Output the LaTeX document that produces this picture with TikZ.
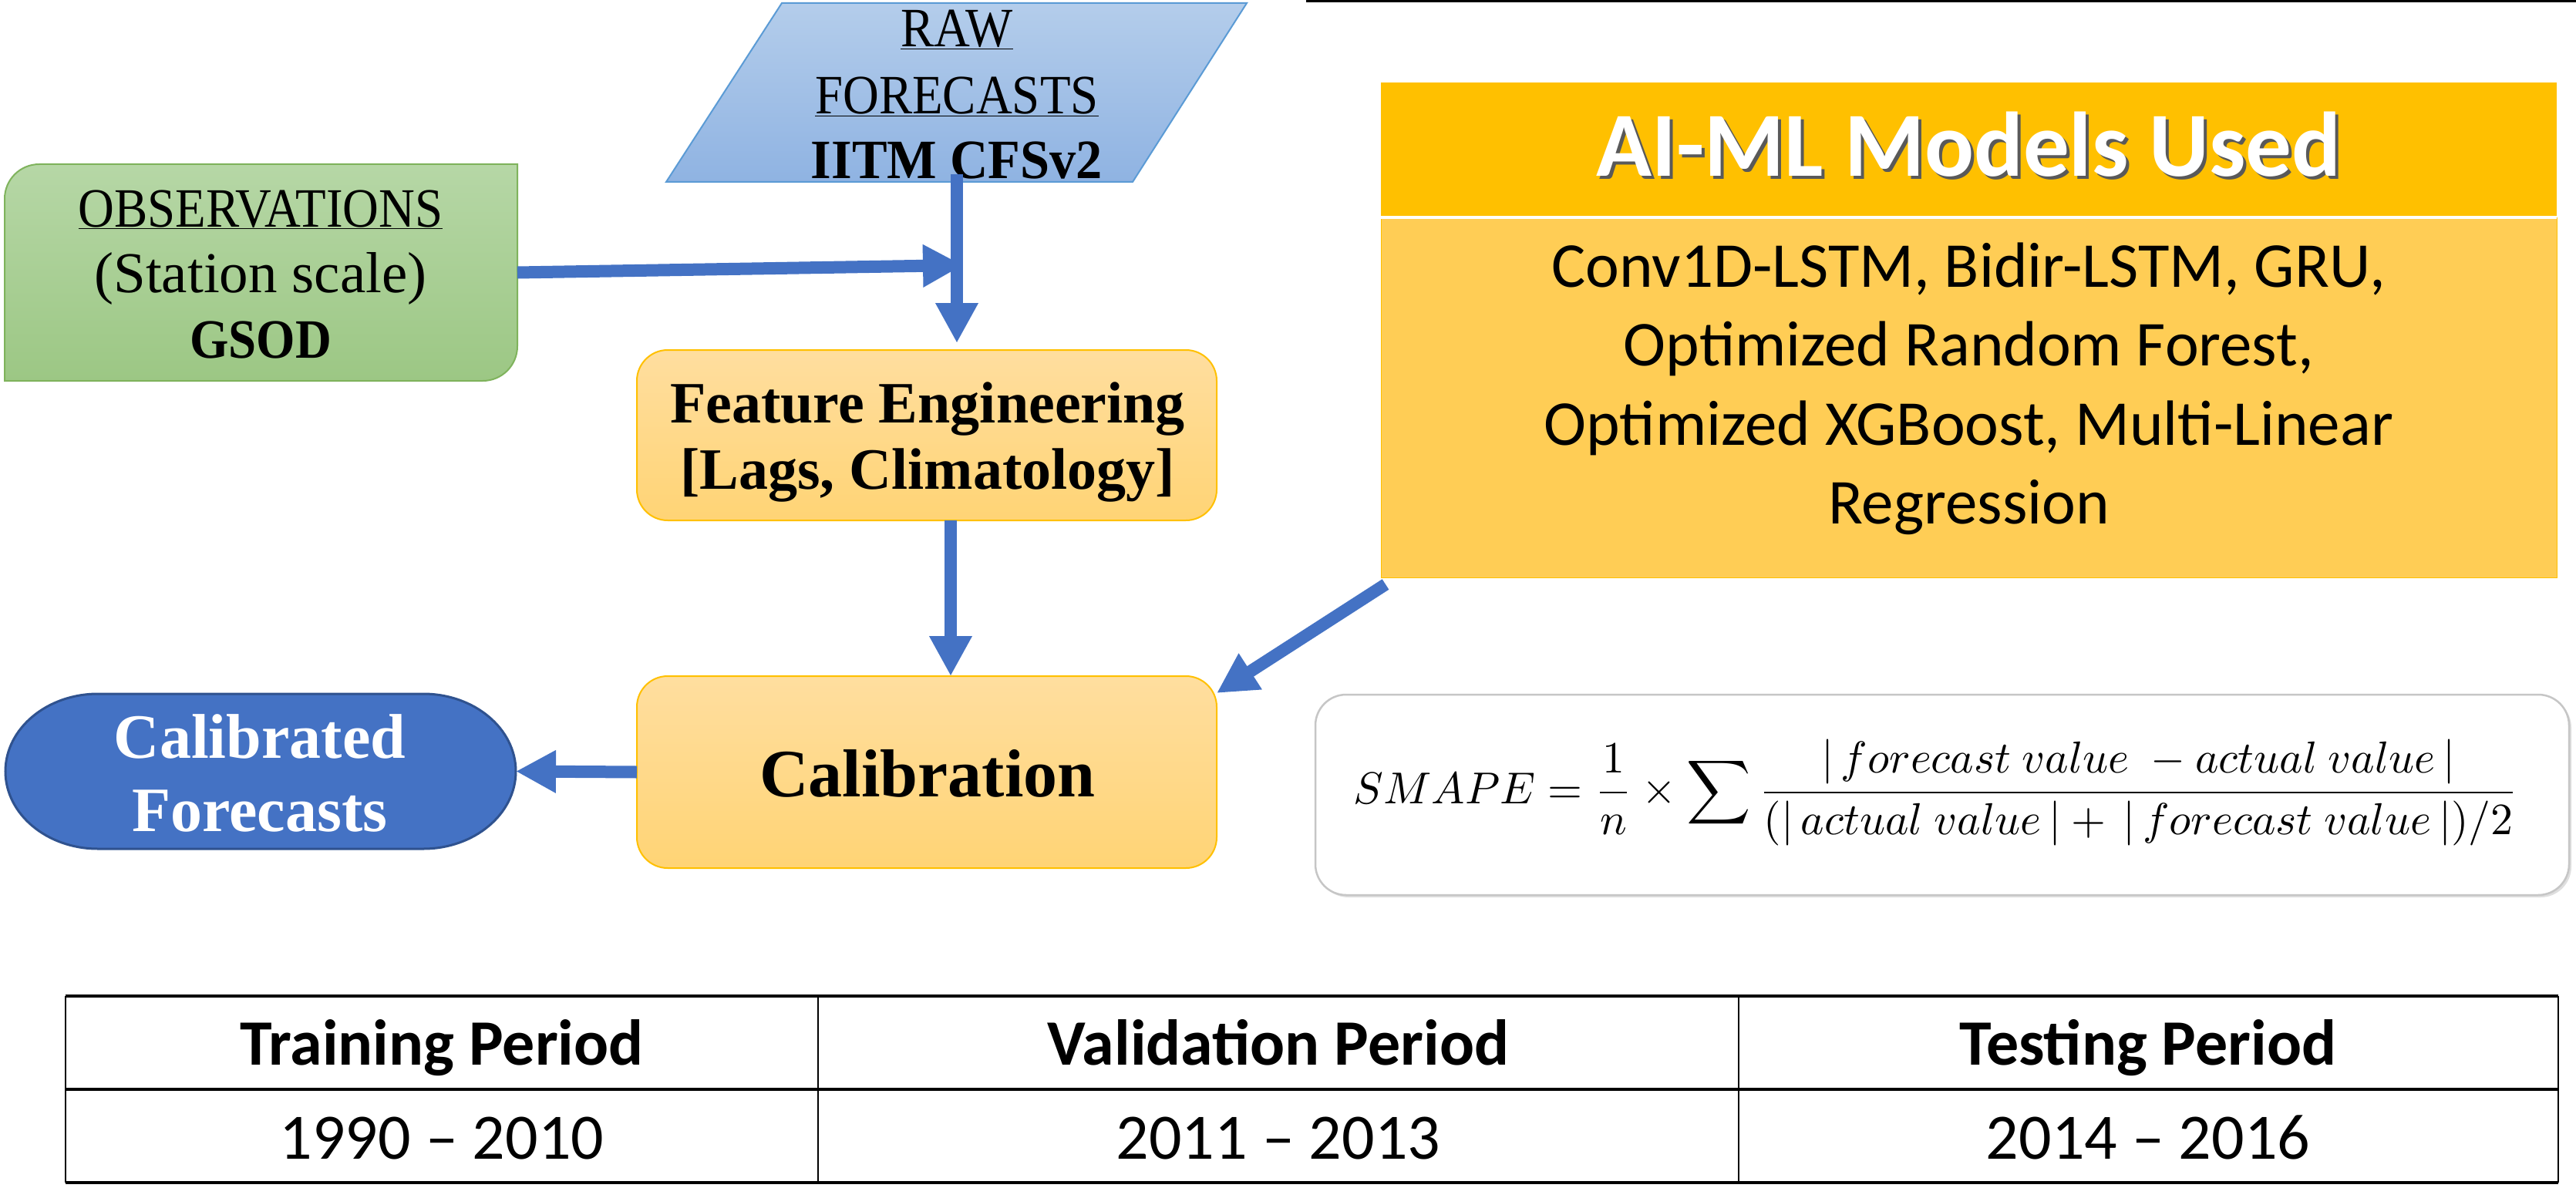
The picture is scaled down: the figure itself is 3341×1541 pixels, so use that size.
\documentclass[tikz,border=0pt]{standalone}
\usepackage{fontspec}
\setmainfont{Liberation Serif}
\newfontfamily\camr[FakeStretch=0.9]{Liberation Serif}
\newfontfamily\camb[FakeStretch=0.95]{Liberation Serif}
\newfontfamily\cambw{Liberation Serif}
\newfontfamily\calibri{Carlito}
\usetikzlibrary{arrows.meta,calc,shadows}
\definecolor{arrowblue}{HTML}{4472C4}
\definecolor{rawtop}{HTML}{B4CDEB}
\definecolor{rawbot}{HTML}{8FB3E2}
\definecolor{rawedge}{HTML}{5B9BD5}
\definecolor{obstop}{HTML}{B6D7A6}
\definecolor{obsbot}{HTML}{9CC784}
\definecolor{obsedge}{HTML}{7FB35C}
\definecolor{fetop}{HTML}{FFDE9F}
\definecolor{febot}{HTML}{FFD475}
\definecolor{feedge}{HTML}{FFC000}
\definecolor{cffill}{HTML}{4472C4}
\definecolor{cfedge}{HTML}{2F528F}
\definecolor{aihead}{HTML}{FFC000}
\definecolor{aibody}{HTML}{FFCD55}
\begin{document}
\begin{tikzpicture}[x=1pt,y=-1pt,
  every node/.style={inner sep=0pt, outer sep=0pt},
  txt/.style={anchor=base},
  conn/.style={draw=arrowblue, line width=16pt, -{Triangle[length=52pt,width=52pt]}},
  orangebox/.style={draw=feedge, line width=2pt, rounded corners=40pt, top color=fetop, bottom color=febot, minimum width=752pt},
  serifreg/.style={font=\camr\fontsize{72}{86}\selectfont},
  serifbold/.style={font=\camb\bfseries\fontsize{72}{86}\selectfont},
  febold/.style={font=\cambw\bfseries\fontsize{76}{90}\selectfont},
  calbody/.style={font=\calibri\fontsize{83}{100}\selectfont},
  tabhead/.style={font=\calibri\bfseries\fontsize{84}{100}\selectfont},
  tabcell/.style={font=\calibri\fontsize{84}{100}\selectfont},
]
\useasboundingbox (0,0) rectangle (3341,1541);
\fill[white] (0,0) rectangle (3341,1541);

% stray top rule
\draw[line width=3pt] (1694,2) -- (3341,2);

% RAW FORECASTS parallelogram
\path[draw=rawedge, line width=2pt, top color=rawtop, bottom color=rawbot]
  (1014,4) -- (1617,4) -- (1469,236) -- (864,236) -- cycle;
\node[serifreg, txt] (raw1) at (1241,61) {\underline{RAW}};
\node[serifreg, txt] (raw2) at (1241,148) {\underline{FORECASTS}};
\node[serifbold, txt] (raw3) at (1241,232) {IITM CFSv2};
\coordinate (rawout) at (1241,226);

% OBSERVATIONS box
\node[minimum width=665pt, minimum height=281pt] (obs) at (338.5,353.5) {};
\path[draw=obsedge, line width=2pt, top color=obstop, bottom color=obsbot]
  (6,494) -- (6,258) .. controls (6,233) and (26,213) .. (51,213) -- (671,213)
  -- (671,449) .. controls (671,474) and (651,494) .. (626,494) -- cycle;
\node[serifreg, txt] (obs1) at (338,294) {\underline{OBSERVATIONS}};
\node[font=\cambw\fontsize{75}{86}\selectfont, txt] (obs2) at (338,379) {(Station scale)};
\node[font=\camr\bfseries\fontsize{72}{86}\selectfont, txt] (obs3) at (338,464) {GSOD};

% Feature engineering
\node[orangebox, minimum height=221pt] (fe) at (1202,564.5) {};
\node[febold, txt] (fe1) at (1203,548) {Feature Engineering};
\node[febold, txt] (fe2) at (1203,634) {[Lags, Climatology]};

% Calibration
\node[orangebox, minimum height=249pt] (cal) at (1202,1001.5) {};
\node[font=\cambw\bfseries\fontsize{88}{100}\selectfont, txt] (cal1) at (1203,1033) {Calibration};

% Calibrated Forecasts
\node[minimum width=662pt, minimum height=201pt] (cf) at (338,1000.5) {};
\path[draw=cfedge, line width=3pt, fill=cffill]
  (127,900) -- (549,900) .. controls (615,900) and (669,945) .. (669,1000.5)
  .. controls (669,1056) and (615,1101) .. (549,1101) -- (127,1101)
  .. controls (61,1101) and (7,1056) .. (7,1000.5)
  .. controls (7,945) and (61,900) .. (127,900) -- cycle;
\node[font=\cambw\bfseries\fontsize{82}{100}\selectfont, txt, text=white] (cf1) at (337,983) {Calibrated};
\node[font=\cambw\bfseries\fontsize{82}{100}\selectfont, txt, text=white] (cf2) at (337,1078) {Forecasts};

% AI-ML models box
\node[fill=aihead, minimum width=1525pt, minimum height=175pt] (aihd) at (2553.5,194.5) {};
\node[fill=aibody, draw=aihead, line width=1pt, minimum width=1525pt, minimum height=467pt] (aibd) at (2553.5,515.5) {};
\draw[white, line width=4pt] (aihd.south west) -- (aihd.south east);
\node[font=\calibri\bfseries\fontsize{119}{130}\selectfont, txt, text=black!65] (aititleshadow) at ([xshift=4pt,yshift=-4pt]2553.5,229) {AI-ML Models Used};
\node[font=\calibri\bfseries\fontsize{119}{130}\selectfont, txt, text=white] (aititle) at (2553.5,229) {AI-ML Models Used};
\node[calbody, txt] (ai1) at (2553.5,372) {Conv1D-LSTM, Bidir-LSTM, GRU,};
\node[calbody, txt] (ai2) at (2553.5,474) {Optimized Random Forest,};
\node[calbody, txt] (ai3) at (2553.5,577) {Optimized XGBoost, Multi-Linear};
\node[calbody, txt] (ai4) at (2553.5,679) {Regression};
\coordinate (aistart) at (1797,758);

% SMAPE box
\node[draw=gray!45, line width=2.5pt, rounded corners=40pt, fill=white,
  drop shadow={shadow xshift=3pt, shadow yshift=-3pt, opacity=0.25},
  minimum width=1626pt, minimum height=260pt] (smape) at (2519,1031) {};
\node (formula) at (2511,1028)
  {\scalebox{5.78}[5.8]{$\displaystyle SMAPE=\frac{1}{n}\times\sum\frac{|\,forecast\ value\ -actual\ value\,|}{(|\,actual\ value\,|+\,|\,forecast\ value\,|)/2}$}};

% arrows
\coordinate (j) at (1249,344);
\draw[conn] (obs.east) -- (j);
\draw[conn] (rawout) -- ($(rawout |- fe.north)+(0,-9)$);
\draw[conn] ($(fe.south)+(31,0)$) -- ($(cal.north)+(31,0)$);
\draw[conn] (aistart) -- ($(cal.north east)+(0,22)$);
\draw[conn] (cal.west) -- (cf.east);

% table
\draw[line width=4pt] (85,1292) -- (3318,1292);
\draw[line width=4pt] (85,1413) -- (3318,1413);
\draw[line width=4pt] (85,1534) -- (3318,1534);
\foreach \xx in {85,1061,2255,3318} \draw[line width=1.5pt] (\xx,1292) -- (\xx,1534);
\node[tabhead, txt] (th1) at (573,1381) {Training Period};
\node[tabhead, txt] (th2) at (1658,1381) {Validation Period};
\node[tabhead, txt] (th3) at (2786,1381) {Testing Period};
\node[tabcell, txt] (td1) at (573,1503) {1990 – 2010};
\node[tabcell, txt] (td2) at (1658,1503) {2011 – 2013};
\node[tabcell, txt] (td3) at (2786,1503) {2014 – 2016};
\end{tikzpicture}
\end{document}
